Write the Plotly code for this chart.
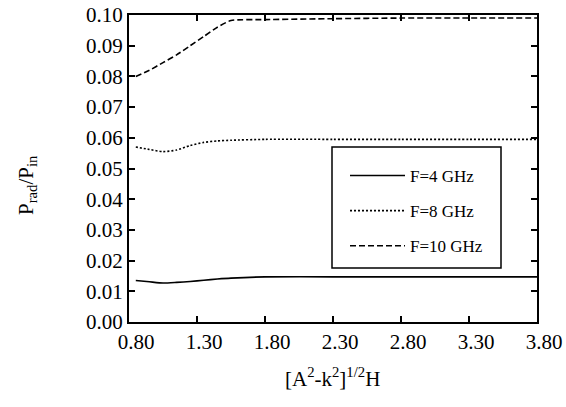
import plotly.graph_objects as go

x_vals = [0.85, 0.95, 1.05, 1.15, 1.25, 1.35, 1.45, 1.55, 1.80, 2.30, 2.80, 3.30, 3.80]
f4 = [0.0135, 0.0131, 0.0127, 0.0129, 0.0132, 0.0136, 0.0140, 0.0143, 0.0147, 0.0147, 0.0147, 0.0147, 0.0147]
f8 = [0.0570, 0.0562, 0.0555, 0.0560, 0.0575, 0.0585, 0.0590, 0.0592, 0.0595, 0.0595, 0.0595, 0.0595, 0.0595]
f10 = [0.0800, 0.0820, 0.0845, 0.0870, 0.0900, 0.0930, 0.0960, 0.0982, 0.0985, 0.0988, 0.0990, 0.0990, 0.0990]

x_ticks = [0.8, 1.3, 1.8, 2.3, 2.8, 3.3, 3.8]
x_tick_labels = ["0.80", "1.30", "1.80", "2.30", "2.80", "3.30", "3.80"]
y_ticks = [0.0, 0.01, 0.02, 0.03, 0.04, 0.05, 0.06, 0.07, 0.08, 0.09, 0.10]
y_tick_labels = ["0.00", "0.01", "0.02", "0.03", "0.04", "0.05", "0.06", "0.07", "0.08", "0.09", "0.10"]

names = ["F=4 GHz", "F=8 GHz", "F=10 GHz"]
dashes = ["solid", "2px,2px", "6px,3px"]

fig = go.Figure()
for i, (ys, nm, ds) in enumerate(zip([f4, f8, f10], names, dashes)):
    fig.add_trace(go.Scatter(
        x=x_vals, y=ys, mode="lines", name=nm, legendgroup=str(i),
        line=dict(color="black", width=1.6, dash=ds, shape="spline", smoothing=0.6),
    ))

FONT = "Liberation Serif, Times New Roman, serif"
L, R, T, B = 129, 29, 15, 85
W, H = 566, 407
pw, ph = W - L - R, H - T - B

def px_x(p):
    return (p - L) / pw

def px_y(p):
    return (H - B - p) / ph

# legend box
fig.add_shape(type="rect", xref="paper", yref="paper",
              x0=px_x(332), x1=px_x(501), y0=px_y(268), y1=px_y(147),
              line=dict(color="black", width=1.5), fillcolor="rgba(0,0,0,0)", layer="above")

fig.update_layout(
    width=W, height=H,
    margin=dict(l=L, r=R, t=T, b=B),
    paper_bgcolor="white", plot_bgcolor="white",
    font=dict(family=FONT, color="black", size=21),
    showlegend=True,
    legend=dict(
        x=px_x(345), y=px_y(158), xanchor="left", yanchor="top",
        borderwidth=0, bgcolor="rgba(0,0,0,0)",
        font=dict(family=FONT, size=17, color="black"),
        tracegroupgap=10, itemwidth=55,
    ),
    xaxis=dict(
        range=[0.8, 3.8], tickvals=x_ticks, ticktext=x_tick_labels,
        ticks="inside", ticklen=6, tickwidth=1.5, tickcolor="black",
        showline=True, linecolor="black", linewidth=2, mirror="allticks",
        showgrid=False, zeroline=False, automargin=False,
        ticklabelshift=7,
        tickfont=dict(family=FONT, size=21),
    ),
    yaxis=dict(
        range=[0.0, 0.10], tickvals=y_ticks, ticktext=y_tick_labels,
        ticks="inside", ticklen=6, tickwidth=1.5, tickcolor="black",
        showline=True, linecolor="black", linewidth=2, mirror="allticks",
        showgrid=False, zeroline=False, automargin=False,
        tickfont=dict(family=FONT, size=21),
    ),
    annotations=[
        dict(text="[A<sup>2</sup>-k<sup>2</sup>]<sup>1/2</sup>H", xref="paper", yref="paper",
             x=px_x(332), y=px_y(377), xanchor="center", yanchor="middle", showarrow=False,
             font=dict(family=FONT, size=21)),
        dict(text="P<sub>rad</sub>/P<sub>in</sub>", xref="paper", yref="paper",
             x=px_x(27), y=px_y(185), xanchor="center", yanchor="middle", showarrow=False,
             textangle=-90, font=dict(family=FONT, size=21)),
    ],
)

fig.write_html("out.html", config={"displayModeBar": False},
               post_script="document.body.style.margin='0';")
